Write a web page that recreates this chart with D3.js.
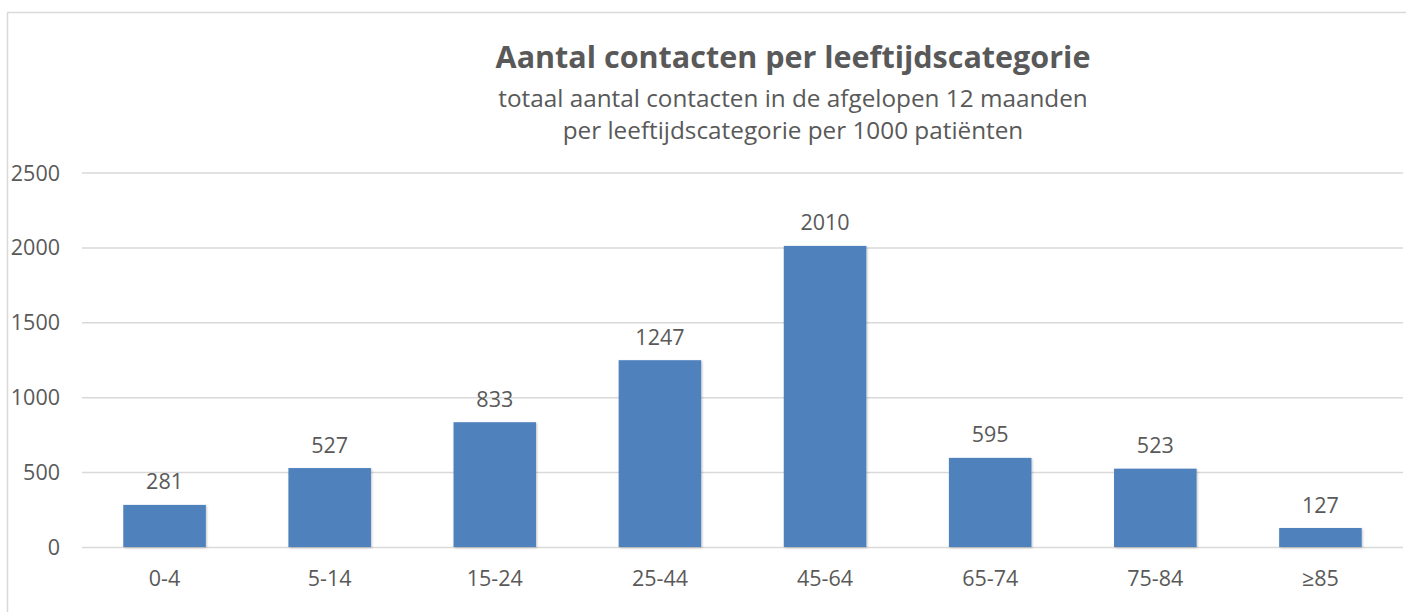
<!DOCTYPE html>
<html>
<head>
<meta charset="utf-8">
<script src="https://cdn.jsdelivr.net/npm/d3@7"></script>
<style>
  html, body { margin: 0; padding: 0; background: #fff; }
  svg { display: block; }
  text { font-family: "Open Sans", "Noto Sans", sans-serif; fill: #595959; }
</style>
</head>
<body>
<svg id="chart" width="1406" height="612"></svg>
<script>
const categories = ["0-4", "5-14", "15-24", "25-44", "45-64", "65-74", "75-84", "≥85"];
const values = [281, 527, 833, 1247, 2010, 595, 523, 127];
const yTicks = [0, 500, 1000, 1500, 2000, 2500];
const title = "Aantal contacten per leeftijdscategorie";
const subtitleLines = ["totaal aantal contacten in de afgelopen 12 maanden", "per leeftijdscategorie per 1000 patiënten"];

const svg = d3.select("#chart");
const W = 1406, H = 612;

// chart border (right and bottom edges fall outside the picture)
svg.append("rect").attr("x", 7.5).attr("y", 12.5).attr("width", W + 10).attr("height", H + 10)
  .attr("fill", "none").attr("stroke", "#d9d9d9").attr("stroke-width", 1.5);

const x = d3.scaleBand().domain(categories).range([82, 1403]).paddingInner(0.5).paddingOuter(0.25);
const y = d3.scaleLinear().domain([0, 2500]).range([547, 172.5]);

const defs = svg.append("defs");
const f = defs.append("filter").attr("id", "sh").attr("x", "-10%").attr("y", "-10%").attr("width", "130%").attr("height", "130%");
f.append("feDropShadow").attr("dx", 1).attr("dy", 1).attr("stdDeviation", 1.2).attr("flood-color", "#000").attr("flood-opacity", 0.22);

// gridlines + y labels
const yAxis = d3.axisLeft(y).tickValues(yTicks).tickSize(-(1403 - 82)).tickPadding(22).tickFormat(d3.format("d"));
const gy = svg.append("g").attr("transform", "translate(82,0)").call(yAxis);
gy.select(".domain").remove();
gy.selectAll(".tick line").attr("stroke", "#d9d9d9").attr("stroke-width", 1.5);
gy.selectAll(".tick text").style("font-size", "21.5px").attr("fill", "#595959").attr("dy", "0.35em");

// x axis labels
const xAxis = d3.axisBottom(x).tickSize(0).tickPadding(24);
const gx = svg.append("g").attr("transform", "translate(0,547)").call(xAxis);
gx.select(".domain").remove();
gx.selectAll(".tick text").style("font-size", "21.5px").attr("fill", "#595959");

// bars
svg.append("g").selectAll("rect").data(values).join("rect")
  .attr("x", (d, i) => x(categories[i]))
  .attr("y", d => y(d))
  .attr("width", x.bandwidth())
  .attr("height", d => y(0) - y(d))
  .attr("fill", "#4f81bd")
  .attr("filter", "url(#sh)");

// value labels
svg.append("g").selectAll("text").data(values).join("text")
  .attr("x", (d, i) => x(categories[i]) + x.bandwidth() / 2)
  .attr("y", d => y(d) - 23)
  .attr("dy", "0.35em")
  .attr("text-anchor", "middle")
  .style("font-size", "21.5px")
  .text(d => d);

// title
svg.append("text").attr("x", 793).attr("y", 68).attr("text-anchor", "middle")
  .style("font-size", "30.5px").style("font-weight", "bold").text(title);
svg.selectAll(".sub").data(subtitleLines).join("text").attr("class", "sub")
  .attr("x", 793).attr("y", (d, i) => 107 + i * 32).attr("text-anchor", "middle")
  .style("font-size", "24.3px").text(d => d);
</script>
</body>
</html>
